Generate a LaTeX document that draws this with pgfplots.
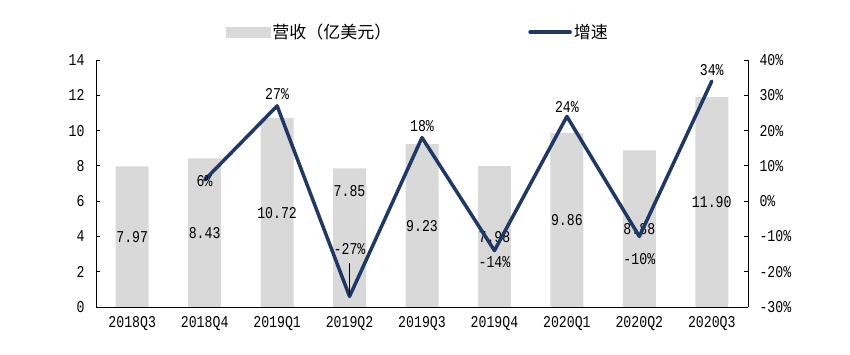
\documentclass[border=0pt]{standalone}
\usepackage{pgfplots}
\pgfplotsset{compat=1.18}
\usepackage{fontspec}
\setmainfont{Liberation Mono}[FakeStretch=0.8]
\newfontfamily\cjk{Noto Sans CJK SC}
\definecolor{barc}{HTML}{D9D9D9}
\definecolor{linec}{HTML}{203864}
\begin{document}
\begin{tikzpicture}[x=1pt,y=1pt]
\path[use as bounding box] (-96,-48) rectangle (754,307);
\pgfplotsset{
 common/.style={
  at={(0,0)}, anchor=south west,
  scale only axis, width=652pt, height=247pt,
  xmin=-0.5, xmax=8.5,
  /pgf/number format/assume math mode=true,
  tick label style={font=\fontsize{16.5}{18}\selectfont},
  tick align=inside, major tick length=4pt, minor tick length=5pt,
  every tick/.style={black, line width=0.8pt},
  axis line style={black, line width=0.8pt},
 }}
\begin{axis}[common,
  axis x line*=bottom, axis y line*=left,
  ymin=0, ymax=14, ytick={0,2,...,14},
  xtick={0,...,8},
  xticklabels={2018Q3,2018Q4,2019Q1,2019Q2,2019Q3,2019Q4,2020Q1,2020Q2,2020Q3},
  x tick style={draw=none},
  minor xtick={-0.5,0.5,...,8.5},
  minor x tick style={black, line width=0.8pt},
  xticklabel style={yshift=-6pt},
  yticklabel style={xshift=-8pt},
]
\addplot[ybar, bar width=33pt, fill=barc, draw=none, bar shift=0pt]
 coordinates {(0,7.97) (1,8.43) (2,10.72) (3,7.85) (4,9.23) (5,7.98) (6,9.86) (7,8.88) (8,11.90)};
\addplot[draw=none, mark=none, nodes near coords, point meta=explicit symbolic,
  every node near coord/.style={anchor=center, font=\fontsize{16.5}{18}\selectfont}]
 table[meta=label] {
x y label
0 3.97 7.97
1 4.20 8.43
2 5.33 10.72
3 6.58 7.85
4 4.60 9.23
5 3.97 7.98
6 4.93 9.86
7 4.42 8.88
8 5.95 11.90
};
\end{axis}
\begin{axis}[common,
  axis x line=none, axis y line*=right,
  ymin=-30, ymax=40, ytick={-30,-20,...,40},
  yticklabel={\pgfmathprintnumber{\tick}\%},
  yticklabel style={xshift=8pt},
  legend columns=2,
  legend style={at={(0.199,1.113)}, anchor=west, draw=none, fill=none,
    inner sep=0pt, font=\cjk\fontsize{17}{19}\selectfont,
    nodes={inner sep=2pt}},
]
\addlegendimage{legend image code/.code={\fill[barc] (0pt,-5pt) rectangle (44pt,5pt);}}
\addlegendentry{\makebox[254pt][l]{营收（亿美元）}}
\addlegendimage{legend image code/.code={\draw[linec, line width=3.5pt, line cap=round] (2pt,0pt) -- (42pt,0pt);}}
\addlegendentry{增速}
\addplot[linec, line width=3.5pt, line join=round, line cap=round, forget plot]
 coordinates {(1,6) (2,27) (3,-27) (4,18) (5,-14) (6,24) (7,-10) (8,34)};
\addplot[black, line width=0.8pt, forget plot] coordinates {(3,-17.6) (3,-26.5)};
\addplot[draw=none, mark=none, nodes near coords, point meta=explicit symbolic, forget plot,
  every node near coord/.style={anchor=center, font=\fontsize{16.5}{18}\selectfont}]
 table[meta=label] {
x y label
1 5.7 6\%
2 30.4 27\%
3 -13.6 -27\%
4 21.3 18\%
5 -17.2 -14\%
6 26.7 24\%
7 -16.4 -10\%
8 37.2 34\%
};
\end{axis}
\end{tikzpicture}
\end{document}
